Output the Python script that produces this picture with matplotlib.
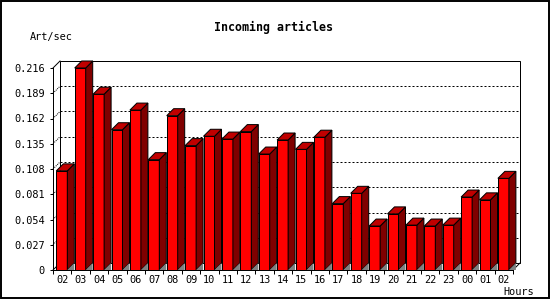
import matplotlib
matplotlib.use('Agg')
import matplotlib.pyplot as plt
from matplotlib.patches import Polygon, Rectangle

# incoming articles per second, by hour
hours = ['02', '03', '04', '05', '06', '07', '08', '09', '10', '11', '12', '13',
         '14', '15', '16', '17', '18', '19', '20', '21', '22', '23', '00', '01', '02']
rates = [0.106, 0.216, 0.188, 0.150, 0.171, 0.118, 0.165, 0.133, 0.143, 0.140,
         0.148, 0.124, 0.139, 0.129, 0.142, 0.071, 0.082, 0.047, 0.060, 0.048,
         0.047, 0.048, 0.078, 0.075, 0.098]
yticks = [0, 0.027, 0.054, 0.081, 0.108, 0.135, 0.162, 0.189, 0.216]

plt.rcParams['font.family'] = ['DejaVu Sans Mono']

W, H = 550, 300
fig = plt.figure(figsize=(W / 100, H / 100), dpi=100, facecolor='white')
ax = fig.add_axes([53 / W, 30 / H, 460 / W, 202 / H])
ax.set_facecolor('none')

n = len(rates)
ymax = yticks[-1]
ax.set_xlim(0, n)
ax.set_ylim(0, ymax)

# 3d depth, 7 px right and 7 px up, in data units
dx = 7 * n / 460
dy = 7 * ymax / 202
px = 0.72  # one pixel in points

# back wall
ax.add_patch(Rectangle((dx, dy), n, ymax, facecolor='white', edgecolor='black',
                       lw=px, clip_on=False, zorder=0))
ax.plot([0, dx], [ymax, ymax + dy], color='black', lw=px, clip_on=False, zorder=1)
ax.plot([n, n + dx], [0, dy], color='black', lw=px, clip_on=False, zorder=1)
ax.plot([0, dx], [0, dy], color='black', lw=px, clip_on=False, zorder=1)

# dotted grid on the back wall
for t in yticks[1:-1]:
    ax.plot([dx, n + dx], [t + dy, t + dy], color='black', lw=px,
            linestyle=(0, (2, 2)), clip_on=False, zorder=1)
    ax.plot([0, dx], [t, t + dy], color='black', lw=px,
            linestyle=(0, (1, 1)), clip_on=False, zorder=1)

# bars: front face, then side, top and floor shadow
off = 3.3 / 18.4
bw = 11 / 18.4
xs = [i + off for i in range(n)]
ax.bar(xs, rates, width=bw, align='edge', color='#ff0000', edgecolor='black',
       lw=px, zorder=3, clip_on=False)
for x0, v in zip(xs, rates):
    x1 = x0 + bw
    side = Polygon([(x1, 0), (x1, v), (x1 + dx, v + dy), (x1 + dx, dy)],
                   closed=True, facecolor='#800000', edgecolor='black', lw=px,
                   zorder=3, clip_on=False)
    top = Polygon([(x0, v), (x1, v), (x1 + dx, v + dy), (x0 + dx, v + dy)],
                  closed=True, facecolor='#c00000', edgecolor='black', lw=px,
                  zorder=3, clip_on=False)
    floor = Polygon([(x1, 0), (x1 + dx, dy), (x1 + dx, 0)], closed=True,
                    facecolor='#808080', edgecolor='none', zorder=3, clip_on=False)
    ax.add_patch(side)
    ax.add_patch(top)
    ax.add_patch(floor)

# axes and ticks
for s in ['top', 'right']:
    ax.spines[s].set_visible(False)
for s in ['left', 'bottom']:
    ax.spines[s].set_linewidth(px)
    ax.spines[s].set_zorder(4)

ax.set_yticks(yticks)
ax.set_yticklabels(['0' if t == 0 else '%.3f' % t for t in yticks])
ax.tick_params(axis='y', direction='out', length=2.2, width=px, pad=3.6,
               labelsize=7.4)
ax.set_xticks(range(n + 1))
ax.set_xticklabels([])
ax.set_xticks([i + 0.5 for i in range(n)], minor=True)
ax.set_xticklabels(hours, minor=True)
ax.tick_params(axis='x', which='major', direction='out', length=3, width=px)
ax.tick_params(axis='x', which='minor', length=0, pad=3.4, labelsize=7.4)

fig.text(273.5 / W, 1 - 27 / H, 'Incoming articles', ha='center', va='center',
         fontsize=8.4, fontweight='bold')
fig.text(30 / W, 1 - 37 / H, 'Art/sec', ha='left', va='center', fontsize=7.4)
fig.text(534 / W, 1 - 292 / H, 'Hours', ha='right', va='center', fontsize=7.4)

# frame around the whole picture
fig.add_artist(Rectangle((1 / W, 2 / H), (W - 2.5) / W, (H - 3) / H,
                         transform=fig.transFigure, fill=False,
                         edgecolor='black', lw=1.4))

plt.savefig('out.png', dpi=100, facecolor='white')
